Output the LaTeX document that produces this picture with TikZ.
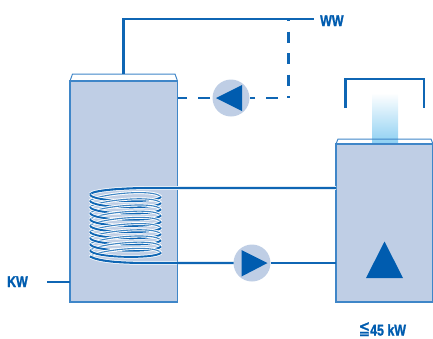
\documentclass[tikz,border=0pt]{standalone}
\usepackage{fontspec}
\setmainfont{Liberation Sans}
\newfontfamily\labfont[FakeBold=1.6]{Liberation Sans Bold}
\newfontfamily\symfont[FakeBold=1.2]{DejaVu Sans}
\definecolor{fillblue}{HTML}{BFCEE5}
\definecolor{lineblue}{HTML}{0F66B4}
\definecolor{edgeblue}{HTML}{3F86C8}
\definecolor{solidblue}{HTML}{005CAF}
\definecolor{flueblue}{HTML}{8CCFF2}
\tikzset{
  vessel/.style={draw=edgeblue,fill=fillblue,line width=1.5pt,inner sep=0pt,outer sep=0pt,rectangle},
  capline/.style={draw=edgeblue,line width=1pt,line join=round},
  pipe/.style={draw=lineblue,line width=2.1pt},
  pumpbody/.style={circle,fill=fillblue,inner sep=0pt,outer sep=0pt,minimum size=37pt},
  solidmark/.style={fill=solidblue,draw=none},
  lab/.style={text=solidblue,font=\labfont\fontsize{15.5}{15.5}\selectfont,inner sep=0pt,xscale=.8},
}
\begin{document}
\begin{tikzpicture}[x=1pt,y=-1pt]
\useasboundingbox (0,0) rectangle (433,338);
% vessels
\draw[capline] (70,81) -- (72.5,74) -- (175,74) -- (177.5,81);
\node[vessel,anchor=north west,minimum width=107.5pt,minimum height=221pt] (tank) at (70,81) {};
\fill[top color=white,bottom color=flueblue] (372,93) rectangle (398,144);
\draw[capline] (336,144) -- (338,139) -- (431,139) -- (433,144);
\node[vessel,anchor=north west,minimum width=97pt,minimum height=158pt] (boiler) at (336,144) {};
% hood
\draw[pipe,line join=miter] (345.5,108) -- (345.5,79) -- (424,79) -- (424,108);
% nodes
\node[pumpbody] (pumpA) at (231,98) {};
\node[pumpbody] (pumpB) at (252,263) {};
\node[lab,anchor=base west] (ww) at (320,26) {WW};
\node[lab,anchor=base west] (kw) at (7,287) {KW};
\node[lab,anchor=base west] (pw) at (370,335.5) {45 kW};
\node[text=solidblue,font=\symfont\fontsize{19}{19}\selectfont,inner sep=0pt,xscale=.72,anchor=base west] (le) at (358.5,334.5) {≦};
\coordinate (wwend) at (314,19);
\coordinate (tanktop) at (123.5,74);
\coordinate (wwcorner) at (123.5,19);
\coordinate (tee) at (288.5,20);
\coordinate (dashcorner) at (288.5,98);
\coordinate (kwstart) at (47,282);
\coordinate (kwend) at (70,282);
% domestic water
\draw[pipe,line join=miter] (tanktop) -- (wwcorner) -- (wwend);
\draw[pipe,dash pattern=on 11pt off 10.5pt,dash phase=10pt] (tee) -- (dashcorner);
\draw[pipe,dash pattern=on 11.5pt off 11pt,dash phase=11.5pt] (dashcorner) -- (pumpA.east);
\draw[pipe,dash pattern=on 12pt off 11pt,dash phase=20.5pt] (pumpA.west) -- (tank.east |- pumpA);
\draw[pipe] (kwstart) -- (kwend);
% coil
\coordinate (coilin) at (boiler.west |- 0,188);
\coordinate (coilout) at (pumpB.west);
\draw[white,line width=3.6pt] (coilin) -- (150,188) .. controls (125,188) and (92,190) .. (90,194.5);
\draw[pipe] (coilin) -- (150,188) .. controls (125,188) and (92,190) .. (90,194.5);
\foreach \y in {194.5,200.7,206.9,213.1,219.3,225.5,231.7,237.9,244.1,250.3} {
  \draw[white,line width=3pt] (90,\y+6.2) .. controls (96,\y) and (155,\y-6.5) .. (161,\y+2.5);
  \draw[lineblue!80,line width=1.1pt] (90,\y+6.2) .. controls (96,\y) and (155,\y-6.5) .. (161,\y+2.5);
  \draw[white,line width=3.4pt] (90,\y) .. controls (92,\y+7.5) and (155,\y+9) .. (161,\y+2.5);
  \draw[lineblue,line width=1.9pt] (90,\y) .. controls (92,\y+7.5) and (155,\y+9) .. (161,\y+2.5);
}
\draw[white,line width=3.6pt] (90,256.5) .. controls (100,262) and (125,263) .. (150,263) -- (177,263);
\draw[pipe] (90,256.5) .. controls (100,262) and (125,263) .. (150,263) -- (coilout);
\draw[pipe] (pumpB.east) -- (boiler.west |- pumpB);
% marks
\fill[solidmark] (216,98) -- (242,85) -- (242,111) -- cycle;
\fill[solidmark] (241.5,250) -- (267.5,263) -- (241.5,276.5) -- cycle;
\fill[solidmark] (384.5,241.5) -- (403,278) -- (366,278) -- cycle;
\end{tikzpicture}
\end{document}
